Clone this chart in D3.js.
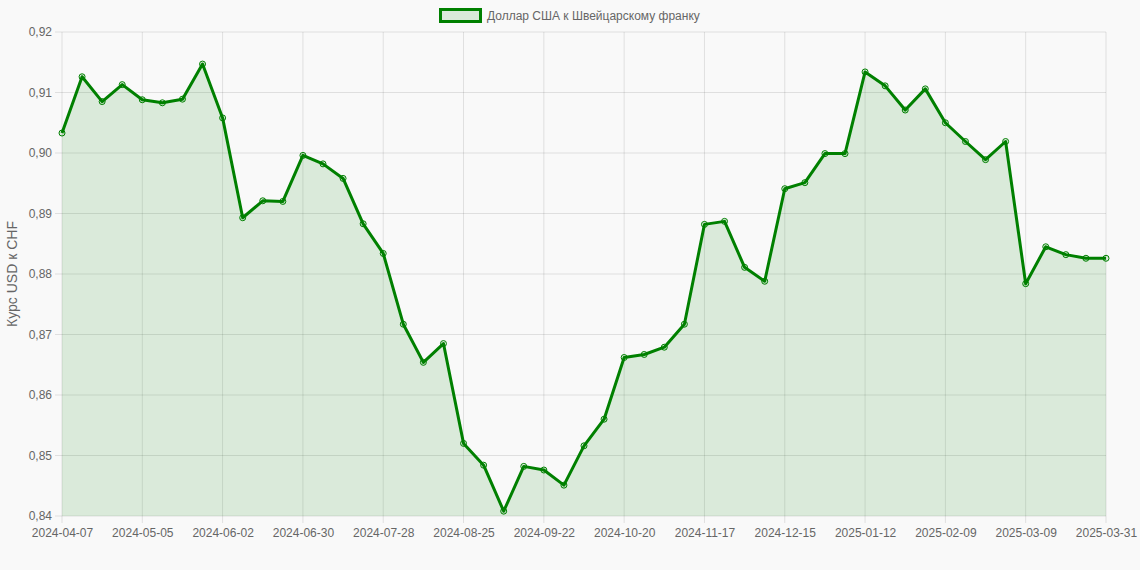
<!DOCTYPE html>
<html>
<head>
<meta charset="utf-8">
<script src="https://cdn.jsdelivr.net/npm/d3@7"></script>
<style>
  html, body { margin: 0; padding: 0; background: #f9f9f9; }
  svg { display: block; font-family: "Liberation Sans", Arial, Helvetica, sans-serif; }
</style>
</head>
<body>
<svg id="chart" width="1140" height="570"></svg>
<script>
// weekly dates, last point is 2025-03-31
const dates = [
  "2024-04-07","2024-04-14","2024-04-21","2024-04-28","2024-05-05","2024-05-12","2024-05-19","2024-05-26",
  "2024-06-02","2024-06-09","2024-06-16","2024-06-23","2024-06-30","2024-07-07","2024-07-14","2024-07-21",
  "2024-07-28","2024-08-04","2024-08-11","2024-08-18","2024-08-25","2024-09-01","2024-09-08","2024-09-15",
  "2024-09-22","2024-09-29","2024-10-06","2024-10-13","2024-10-20","2024-10-27","2024-11-03","2024-11-10",
  "2024-11-17","2024-11-24","2024-12-01","2024-12-08","2024-12-15","2024-12-22","2024-12-29","2025-01-05",
  "2025-01-12","2025-01-19","2025-01-26","2025-02-02","2025-02-09","2025-02-16","2025-02-23","2025-03-02",
  "2025-03-09","2025-03-16","2025-03-23","2025-03-30","2025-03-31"
];
const rates = [
  0.9033, 0.9126, 0.9085, 0.9113, 0.9088, 0.9083, 0.9089, 0.9147,
  0.9058, 0.8893, 0.8921, 0.8920, 0.8996, 0.8982, 0.8958, 0.8883,
  0.8834, 0.8717, 0.8654, 0.8685, 0.8520, 0.8484, 0.8408, 0.8482,
  0.8476, 0.8451, 0.8516, 0.8560, 0.8662, 0.8667, 0.8679, 0.8717,
  0.8882, 0.8887, 0.8811, 0.8788, 0.8941, 0.8951, 0.8999, 0.8999,
  0.9134, 0.9111, 0.9071, 0.9106, 0.9050, 0.9019, 0.8989, 0.9019,
  0.8784, 0.8845, 0.8832, 0.8826, 0.8826
];
const yTicks = [0.84, 0.85, 0.86, 0.87, 0.88, 0.89, 0.90, 0.91, 0.92];
const xTickLabels = dates.filter((d, i) => i % 4 === 0 || i === dates.length - 1);
const seriesName = "Доллар США к Швейцарскому франку";
const yTitle = "Курс USD к CHF";

const svg = d3.select("#chart");
const plotLeft = 62, plotRight = 1106, plotTop = 32, plotBottom = 516;
const lineColor = "#008000";
const fillColor = "rgba(0,128,0,0.12)";
const gridColor = "rgba(0,0,0,0.1)";
const textColor = "#666";

const x = d3.scalePoint().domain(dates).range([plotLeft, plotRight]);
const y = d3.scaleLinear().domain([0.84, 0.92]).range([plotBottom, plotTop]);

// grid
const g = svg.append("g");
g.selectAll(".hgrid").data(yTicks).enter().append("line")
  .attr("x1", plotLeft - 7).attr("x2", plotRight)
  .attr("y1", d => y(d)).attr("y2", d => y(d))
  .attr("stroke", gridColor).attr("stroke-width", 1);
g.selectAll(".vgrid").data(xTickLabels).enter().append("line")
  .attr("x1", d => x(d)).attr("x2", d => x(d))
  .attr("y1", plotTop).attr("y2", plotBottom + 7)
  .attr("stroke", gridColor).attr("stroke-width", 1);

// axes labels
const yAxis = d3.axisLeft(y).tickValues(yTicks)
  .tickFormat(d => d3.format(".2f")(d).replace(".", ","))
  .tickSize(0).tickPadding(10);
svg.append("g").attr("transform", `translate(${plotLeft},0)`).call(yAxis)
  .call(a => a.select(".domain").remove())
  .call(a => a.selectAll("text").attr("fill", textColor).style("font-size", "12px"));

const xAxis = d3.axisBottom(x).tickValues(xTickLabels).tickSize(0).tickPadding(12);
svg.append("g").attr("transform", `translate(0,${plotBottom})`).call(xAxis)
  .call(a => a.select(".domain").remove())
  .call(a => a.selectAll("text").attr("fill", textColor).style("font-size", "12px"));

svg.append("text")
  .attr("transform", `translate(17,${(plotTop + plotBottom) / 2}) rotate(-90)`)
  .attr("text-anchor", "middle")
  .attr("fill", textColor)
  .style("font-size", "14px")
  .text(yTitle);

// area + line
const area = d3.area()
  .x((d, i) => x(dates[i]))
  .y0(plotBottom)
  .y1(d => y(d));
svg.append("path").datum(rates).attr("d", area).attr("fill", fillColor);

const line = d3.line()
  .x((d, i) => x(dates[i]))
  .y(d => y(d));
svg.append("path").datum(rates).attr("d", line)
  .attr("fill", "none").attr("stroke", lineColor).attr("stroke-width", 3)
  .attr("stroke-linejoin", "round");

svg.selectAll(".pt").data(rates).enter().append("circle")
  .attr("cx", (d, i) => x(dates[i]))
  .attr("cy", d => y(d))
  .attr("r", 3)
  .attr("fill", "rgba(0,128,0,0.1)")
  .attr("stroke", lineColor)
  .attr("stroke-width", 1);

// legend
const legend = svg.append("g");
legend.append("rect")
  .attr("x", 440.5).attr("y", 9.5).attr("width", 40).attr("height", 12)
  .attr("fill", "rgba(0,128,0,0.12)").attr("stroke", lineColor).attr("stroke-width", 3);
legend.append("text")
  .attr("x", 487).attr("y", 16).attr("dy", "0.35em")
  .attr("fill", textColor).style("font-size", "12px")
  .text(seriesName);
</script>
</body>
</html>
